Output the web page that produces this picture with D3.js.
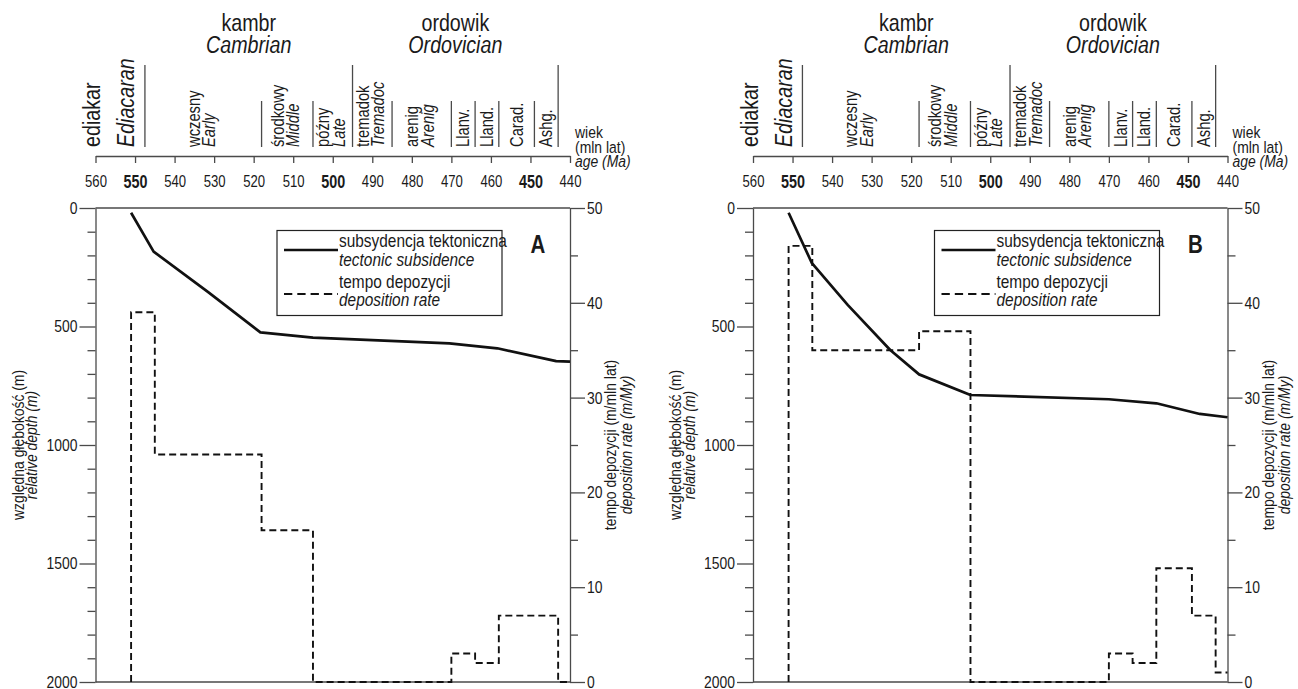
<!DOCTYPE html>
<html>
<head>
<meta charset="utf-8">
<script src="https://cdn.jsdelivr.net/npm/d3@7"></script>
<style>
  body { margin: 0; background: #fff; }
  svg { font-family: 'Liberation Sans', Arial, sans-serif; }
</style>
</head>
<body>
<svg id="chart" width="1298" height="689"></svg>
<script>
const ageTicks = [560, 550, 540, 530, 520, 510, 500, 490, 480, 470, 460, 450, 440]
const boldAges = [550, 500, 450]
const depthTicks = [0, 500, 1000, 1500, 2000]
const rateTicks = [0, 10, 20, 30, 40, 50]

// stratigraphy
const periodsPl = ['kambr', 'ordowik']
const periodsEn = ['Cambrian', 'Ordovician']
const periodStart = [547.5, 495]
const periodEnd = [495, 443]

const epochPl = ['wczesny', 'środkowy', 'późny', 'tremadok', 'arenig', 'Llanv.', 'Lland.', 'Carad.', 'Ashg.']
const epochEn = ['Early', 'Middle', 'Late', 'Tremadoc', 'Arenig', '', '', '', '']
const epochStart = [547.5, 518, 505, 495, 485, 470, 464, 458, 449]
const epochEnd = [518, 505, 495, 485, 470, 464, 458, 449, 443]

// panel A
const subsAgeA = [551, 545.3, 531.5, 518.3, 505, 470.5, 458.4, 443.5, 440]
const subsDepthA = [20, 184, 355, 525, 547, 571, 592, 646, 648]
const rateEdgesA = [551, 545, 518, 505, 470, 464, 458, 443, 440]
const rateA = [39, 24, 16, 0, 3, 2, 7, 0]

// panel B
const subsAgeB = [551, 545.1, 536, 525.3, 518, 505, 470, 458, 447, 440]
const subsDepthB = [20, 233, 410, 599, 702, 789, 807, 824, 869, 883]
const rateEdgesB = [551, 545, 518, 505, 470, 464, 458, 449, 443, 440]
const rateB = [46, 35, 37, 0, 3, 2, 12, 7, 1]

const svg = d3.select('#chart')
const axisColor = '#4a4a4a'
const sx = 0.82 // narrow type, like the original

function label (g, x, y, str, size, o = {}) {
  const t = g.append('text')
    .attr('transform', `translate(${x},${y})${o.rotate ? ' rotate(-90)' : ''} scale(${sx},1)`)
    .attr('font-size', size).attr('fill', '#1a1a1a').text(str)
  if (o.italic) t.attr('font-style', 'italic')
  if (o.bold) t.attr('font-weight', 'bold')
  if (o.anchor) t.attr('text-anchor', o.anchor)
  return t
}

function styleAxis (sel, side) {
  sel.attr('font-family', null).attr('font-size', null)
  sel.selectAll('path, line').attr('stroke', axisColor).attr('stroke-width', 1.3)
  sel.selectAll('text').attr('fill', '#1a1a1a').each(function () {
    const t = d3.select(this)
    const x0 = +t.attr('x') || 0
    if (side !== 'bottom') t.attr('x', x0 / sx)
    t.attr('transform', `scale(${sx},1)`)
  })
}

function drawPanel (ox, subsAge, subsDepth, rateEdges, rate, letter) {
  const x = d3.scaleLinear().domain([560, 440]).range([95.5 + ox, 570 + ox])
  const yD = d3.scaleLinear().domain([0, 2000]).range([208, 682])
  const yR = d3.scaleLinear().domain([0, 50]).range([682, 208])
  const g = svg.append('g')

  // period names
  periodsPl.forEach((p, i) => {
    const cx = (x(periodStart[i]) + x(periodEnd[i])) / 2
    label(g, cx, 31, p, 24, { anchor: 'middle' })
    label(g, cx, 53, periodsEn[i], 24, { anchor: 'middle', italic: true })
  })

  // ediacaran
  label(g, ox + 100, 147, 'ediakar', 24, { rotate: true })
  label(g, ox + 134, 147, 'Ediacaran', 24, { rotate: true, italic: true })

  // boundaries
  const majors = periodStart.concat(periodEnd)
  const bounds = Array.from(new Set(epochStart.concat(epochEnd)))
  g.selectAll('.bound').data(bounds).enter().append('line')
    .attr('x1', d => x(d)).attr('x2', d => x(d))
    .attr('y1', d => majors.includes(d) ? 65 : 101).attr('y2', 147)
    .attr('stroke', axisColor).attr('stroke-width', 1.3)

  // epoch labels
  epochPl.forEach((e, i) => {
    const cx = (x(epochStart[i]) + x(epochEnd[i])) / 2
    if (epochEn[i]) {
      label(g, cx - 3.5, 147, e, 18, { rotate: true })
      label(g, cx + 12, 147, epochEn[i], 18, { rotate: true, italic: true })
    } else {
      label(g, cx + 6, 147, e, 18, { rotate: true })
    }
  })

  // time axis
  const ta = g.append('g').attr('transform', 'translate(0,156)')
    .call(d3.axisBottom(x).tickValues(ageTicks).tickSize(7).tickSizeOuter(0).tickPadding(12.5).tickFormat(d3.format('d')))
  styleAxis(ta, 'bottom')
  ta.selectAll('.tick text')
    .attr('font-size', d => boldAges.includes(d) ? 17.5 : 16)
    .attr('font-weight', d => boldAges.includes(d) ? 'bold' : 'normal')

  ;['wiek', '(mln lat)', 'age (Ma)'].forEach((t, i) => {
    label(g, x(440) + 5, 138 + i * 14.5, t, 17, { italic: i === 2 })
  })

  // frame top / bottom
  g.append('line').attr('x1', x(560)).attr('x2', x(440)).attr('y1', yD(0)).attr('y2', yD(0))
    .attr('stroke', axisColor).attr('stroke-width', 1.3)
  g.append('line').attr('x1', x(560)).attr('x2', x(440)).attr('y1', yD(2000)).attr('y2', yD(2000))
    .attr('stroke', axisColor).attr('stroke-width', 1.3)

  // left axis
  const la = g.append('g').attr('transform', `translate(${x(560)},0)`)
    .call(d3.axisLeft(yD).tickValues(depthTicks).tickSize(16).tickSizeOuter(0).tickPadding(2).tickFormat(d3.format('d')))
  la.append('g').call(d3.axisLeft(yD).tickValues(d3.range(100, 2000, 100).filter(d => d % 500)).tickSize(8).tickFormat(''))
    .select('.domain').remove()
  styleAxis(la, 'left')
  la.selectAll('text').attr('font-size', 17)

  // right axis
  const ra = g.append('g').attr('transform', `translate(${x(440)},0)`)
    .call(d3.axisRight(yR).tickValues(rateTicks).tickSize(15).tickSizeOuter(0).tickPadding(2))
  ra.append('g').call(d3.axisRight(yR).tickValues(d3.range(5, 50, 10)).tickSize(8).tickFormat(''))
    .select('.domain').remove()
  styleAxis(ra, 'right')
  ra.selectAll('text').attr('font-size', 17)

  // axis titles
  const cy = (yD(0) + yD(2000)) / 2
  label(g, ox + 23.5, cy, 'względna głębokość (m)', 17, { rotate: true, anchor: 'middle' })
  label(g, ox + 37, cy, 'relative depth (m)', 17, { rotate: true, anchor: 'middle', italic: true })
  label(g, ox + 616, cy, 'tempo depozycji (m/mln lat)', 17, { rotate: true, anchor: 'middle' })
  label(g, ox + 632, cy, 'deposition rate (m/My)', 17, { rotate: true, anchor: 'middle', italic: true })

  // deposition rate steps
  const pts = [[rateEdges[0], 0]]
  rate.forEach((v, i) => { pts.push([rateEdges[i], v], [rateEdges[i + 1], v]) })
  g.append('path').datum(pts)
    .attr('d', d3.line().x(d => x(d[0])).y(d => yR(d[1])))
    .attr('fill', 'none').attr('stroke', '#111').attr('stroke-width', 1.9)
    .attr('stroke-dasharray', '7,4')

  // tectonic subsidence
  g.append('path').datum(subsAge.map((a, i) => [a, subsDepth[i]]))
    .attr('d', d3.line().x(d => x(d[0])).y(d => yD(d[1])))
    .attr('fill', 'none').attr('stroke', '#111').attr('stroke-width', 2.7)
    .attr('stroke-linejoin', 'round')

  // legend
  const lx = ox + 277
  const lg = g.append('g')
  lg.append('rect').attr('x', lx).attr('y', 230.5).attr('width', 225).attr('height', 85)
    .attr('fill', '#fff').attr('stroke', '#222').attr('stroke-width', 1.2)
  lg.append('line').attr('x1', lx + 7).attr('x2', lx + 61).attr('y1', 250).attr('y2', 250)
    .attr('stroke', '#111').attr('stroke-width', 2.7)
  lg.append('line').attr('x1', lx + 7).attr('x2', lx + 61).attr('y1', 294).attr('y2', 294)
    .attr('stroke', '#111').attr('stroke-width', 1.9).attr('stroke-dasharray', '8.3,5')
  const leg = [['subsydencja tektoniczna', 246.5, false], ['tectonic subsidence', 266, true],
    ['tempo depozycji', 288, false], ['deposition rate', 305.5, true]]
  leg.forEach(([t, y, it]) => label(lg, lx + 62, y, t, 18.8, { italic: it }))

  label(g, ox + 538, 253, letter, 25, { anchor: 'middle', bold: true })
}

drawPanel(0, subsAgeA, subsDepthA, rateEdgesA, rateA, 'A')
drawPanel(657.5, subsAgeB, subsDepthB, rateEdgesB, rateB, 'B')
</script>
</body>
</html>
